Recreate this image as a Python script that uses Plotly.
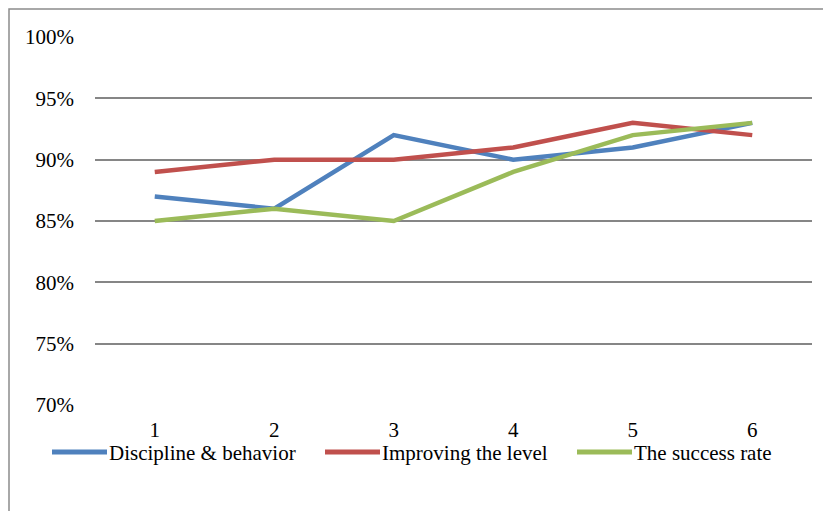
import plotly.graph_objects as go

categories = [1, 2, 3, 4, 5, 6]
series_names = ["Discipline & behavior", "Improving the level", "The success rate"]
discipline = [0.87, 0.86, 0.92, 0.90, 0.91, 0.93]
improving = [0.89, 0.90, 0.90, 0.91, 0.93, 0.92]
success = [0.85, 0.86, 0.85, 0.89, 0.92, 0.93]
colors = ["#4F81BD", "#C0504D", "#9BBB59"]
y_ticks = [0.70, 0.75, 0.80, 0.85, 0.90, 0.95, 1.00]
y_tick_labels = ["70%", "75%", "80%", "85%", "90%", "95%", "100%"]

OFF = 8  # page body margin
W, H = 831 - OFF, 511 - OFF
# plot area in screen pixels
SL, SR, ST, SB = 95, 812, 37, 405
L, T = SL - OFF, ST - OFF
R = W - (SR - OFF)
B = H - (SB - OFF)
pw, ph = SR - SL, SB - ST

def px(x):
    return (x - SL) / pw

def py(y):
    return (SB - y) / ph

FONT = "Liberation Serif, Times New Roman, serif"
FS = 21

fig = go.Figure()
for name, vals, col in zip(series_names, [discipline, improving, success], colors):
    fig.add_trace(go.Scatter(x=categories, y=vals, mode="lines", name=name,
                             line=dict(color=col, width=4.5), showlegend=False))

fig.update_layout(
    width=W, height=H,
    margin=dict(l=L, r=R, t=T, b=B, autoexpand=False),
    paper_bgcolor="white", plot_bgcolor="white",
    font=dict(family=FONT, size=FS, color="black"),
    xaxis=dict(range=[0.5, 6.5], tickvals=categories, showgrid=False, zeroline=False,
               showline=False, ticks="", ticklabelstandoff=10,
               tickfont=dict(family=FONT, size=FS, color="black")),
    yaxis=dict(range=[0.70, 1.00], tickvals=y_ticks, ticktext=y_tick_labels,
               showgrid=True, gridcolor="#868686", gridwidth=1.5, zeroline=False,
               showline=False, ticks="", ticklabelstandoff=20,
               tickfont=dict(family=FONT, size=FS, color="black")),
)

# chart border (only left and top edges visible in frame)
fig.add_shape(type="rect", xref="paper", yref="paper",
              x0=px(9), x1=px(900), y0=py(600), y1=py(9),
              line=dict(color="#8c8c8c", width=1.5), layer="below")

# legend
leg_y = 452
leg_starts = [52, 325, 577]
for name, col, x0 in zip(series_names, colors, leg_starts):
    fig.add_shape(type="line", xref="paper", yref="paper",
                  x0=px(x0), x1=px(x0 + 55), y0=py(leg_y), y1=py(leg_y),
                  line=dict(color=col, width=5))
    fig.add_annotation(xref="paper", yref="paper", x=px(x0 + 56), y=py(leg_y + 1),
                       text=name, showarrow=False, xanchor="left", yanchor="middle",
                       borderpad=0,
                       font=dict(family=FONT, size=FS, color="black"))

fig.write_html("out.html")
